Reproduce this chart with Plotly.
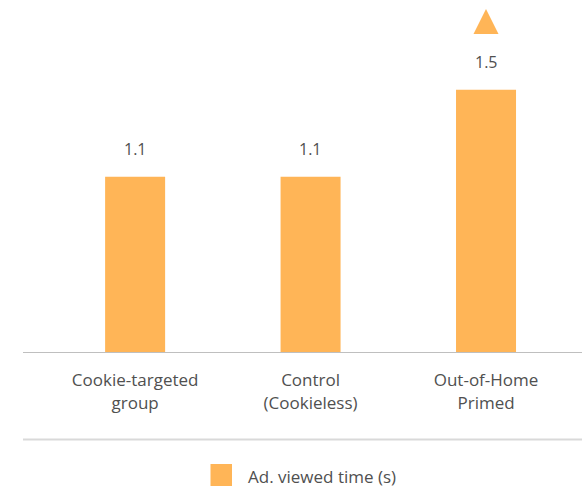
import plotly.graph_objects as go

# Ad viewing time by exposure group
categories = ["Cookie-targeted<br>group", "Control<br>(Cookieless)", "Out-of-Home<br>Primed"]
viewed_time = [1.1, 1.1, 1.5]
value_labels = ["1.1", "1.1", "1.5"]
series_name = "Ad. viewed time (s)"

BAR_COLOR = "#FFB557"
TEXT_COLOR = "#505050"
FONT = "Open Sans"

W, H = 582, 487
L_MARGIN, B_MARGIN = 23, 135
PLOT_H = H - B_MARGIN
Y_MIN = 0.295
Y_MAX = 1.913


def px_to_paper_x(px):
    return (px - L_MARGIN) / (W - L_MARGIN)


def px_to_paper_y(py):
    return (PLOT_H - py) / PLOT_H


fig = go.Figure()

fig.add_trace(go.Bar(
    x=categories,
    y=viewed_time,
    width=0.342,
    marker=dict(color=BAR_COLOR, line=dict(width=0)),
    name=series_name,
    showlegend=False,
    hoverinfo="skip",
))

# value labels above each bar
for cat, val, lab in zip(categories, viewed_time, value_labels):
    fig.add_annotation(
        x=cat, y=val, xref="x", yref="y",
        text=lab, showarrow=False,
        yanchor="middle", yshift=28,
        font=dict(family=FONT, size=16, color=TEXT_COLOR),
    )

# upward indicator above the highest group
fig.add_trace(go.Scatter(
    x=[categories[2]], y=[1.872],
    mode="markers",
    marker=dict(symbol="arrow-up", size=25, color=BAR_COLOR, line=dict(width=0)),
    showlegend=False,
    hoverinfo="skip",
    cliponaxis=False,
))

# separator line between axis labels and legend
fig.add_shape(
    type="line", xref="paper", yref="paper",
    x0=0, x1=1, y0=px_to_paper_y(439.5), y1=px_to_paper_y(439.5),
    line=dict(color="#D9D9D9", width=2),
)

# legend swatch and text
fig.add_shape(
    type="rect", xref="paper", yref="paper",
    x0=px_to_paper_x(210.5), x1=px_to_paper_x(232),
    y0=px_to_paper_y(486), y1=px_to_paper_y(464),
    fillcolor=BAR_COLOR, line=dict(width=0),
)
fig.add_annotation(
    x=px_to_paper_x(246), y=px_to_paper_y(476), xref="paper", yref="paper",
    text=series_name, showarrow=False,
    xanchor="left", yanchor="middle",
    font=dict(family=FONT, size=17, color=TEXT_COLOR),
)

fig.update_layout(
    width=W, height=H,
    margin=dict(l=L_MARGIN, r=0, t=0, b=B_MARGIN),
    paper_bgcolor="white",
    plot_bgcolor="white",
    font=dict(family=FONT, size=17, color=TEXT_COLOR),
    showlegend=False,
    xaxis=dict(
        range=[-0.639, 2.547],
        showline=True, linecolor="#BFBFBF", linewidth=1,
        showgrid=False, zeroline=False,
        ticks="", ticklabelstandoff=13,
        tickfont=dict(family=FONT, size=17, color=TEXT_COLOR),
        fixedrange=True,
    ),
    yaxis=dict(
        range=[Y_MIN, Y_MAX],
        visible=False, showgrid=False, zeroline=False,
        fixedrange=True,
    ),
)

fig.write_html("out.html")
